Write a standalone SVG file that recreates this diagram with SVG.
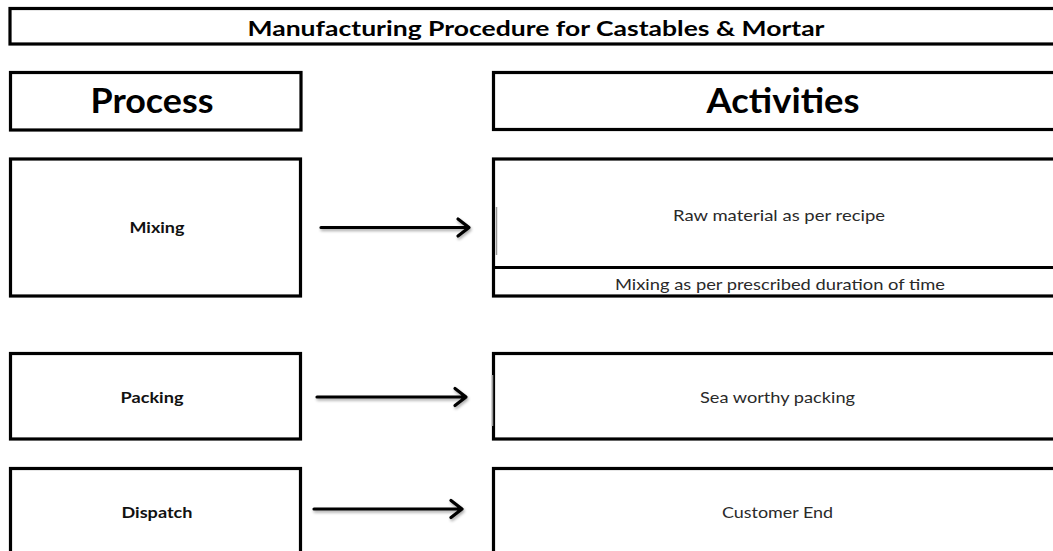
<svg xmlns="http://www.w3.org/2000/svg" width="1053" height="551" viewBox="0 0 1053 551">
<style>
.box{fill:#fff;stroke:#000;stroke-width:3.2}
.hdr{font-family:Lato,"Open Sans","Liberation Sans",sans-serif;font-weight:bold;fill:#000;text-anchor:middle}
.lbl{font-family:Lato,"Open Sans","Liberation Sans",sans-serif;font-weight:bold;font-size:14.5px;fill:#111;text-anchor:middle}
.act{font-family:Lato,"Open Sans","Liberation Sans",sans-serif;font-size:15px;fill:#2a2a2a;text-anchor:middle}
.arrow{fill:none;stroke:#000;stroke-width:3.2;stroke-linecap:round;stroke-linejoin:round;filter:url(#sh)}
.art{stroke:#999;stroke-width:1.5}
</style>
<defs>
<filter id="sh" x="-10%" y="-100%" width="120%" height="300%">
<feGaussianBlur in="SourceAlpha" stdDeviation="1.6"/>
<feOffset dx="1" dy="2" result="b"/>
<feComponentTransfer><feFuncA type="linear" slope="0.35"/></feComponentTransfer>
<feMerge><feMergeNode/><feMergeNode in="SourceGraphic"/></feMerge>
</filter>
</defs>
<rect width="1053" height="551" fill="#fff"/>
<g id="title">
<rect class="box" x="10" y="8.5" width="1060" height="35.5"/>
<text class="hdr" x="536" y="36" font-size="21" textLength="577" lengthAdjust="spacingAndGlyphs">Manufacturing Procedure for Castables &amp; Mortar</text>
</g>
<g id="process-header">
<rect class="box" x="10.5" y="72.5" width="290.5" height="57.5"/>
<text class="hdr" x="152" y="113" font-size="35" textLength="123" lengthAdjust="spacingAndGlyphs">Process</text>
</g>
<g id="activities-header">
<rect class="box" x="493.5" y="72.5" width="570" height="57"/>
<text class="hdr" x="783" y="113" font-size="35" textLength="153" lengthAdjust="spacingAndGlyphs">Activities</text>
</g>
<g id="mixing">
<rect class="box" x="10.5" y="159" width="290" height="137"/>
<text class="lbl" x="157" y="233" textLength="55" lengthAdjust="spacingAndGlyphs">Mixing</text>
</g>
<g id="mixing-activities">
<rect class="box" x="493.5" y="159" width="570" height="137"/>
<line x1="493.5" y1="267.5" x2="1063" y2="267.5" stroke="#000" stroke-width="3.2"/>
<line class="art" x1="496.5" y1="207" x2="496.5" y2="255"/>
<text class="act" x="779" y="221" textLength="212" lengthAdjust="spacingAndGlyphs">Raw material as per recipe</text>
<text class="act" x="780" y="290" textLength="330" lengthAdjust="spacingAndGlyphs">Mixing as per prescribed duration of time</text>
</g>
<g id="packing">
<rect class="box" x="10.5" y="353.5" width="290" height="85.5"/>
<text class="lbl" x="152" y="403" textLength="63" lengthAdjust="spacingAndGlyphs">Packing</text>
</g>
<g id="packing-activities">
<rect class="box" x="493.5" y="353.5" width="570" height="85.5"/>
<line class="art" x1="492.5" y1="375" x2="492.5" y2="426"/>
<text class="act" x="777.5" y="403" textLength="155" lengthAdjust="spacingAndGlyphs">Sea worthy packing</text>
</g>
<g id="dispatch">
<rect class="box" x="10.5" y="468.5" width="290" height="100"/>
<text class="lbl" x="157" y="518" textLength="71" lengthAdjust="spacingAndGlyphs">Dispatch</text>
</g>
<g id="dispatch-activities">
<rect class="box" x="493.5" y="468.5" width="570" height="100"/>
<text class="act" x="777.5" y="518" textLength="111" lengthAdjust="spacingAndGlyphs">Customer End</text>
</g>
<g id="connectors">
<path class="arrow" d="M321 227.5 H468 M458 219 L469 227.5 L458 236"/>
<path class="arrow" d="M317 397 H465 M455 388.5 L466 397 L455 405.5"/>
<path class="arrow" d="M314 509 H461 M451 500.5 L462 509 L451 517.5"/>
</g>
</svg>
